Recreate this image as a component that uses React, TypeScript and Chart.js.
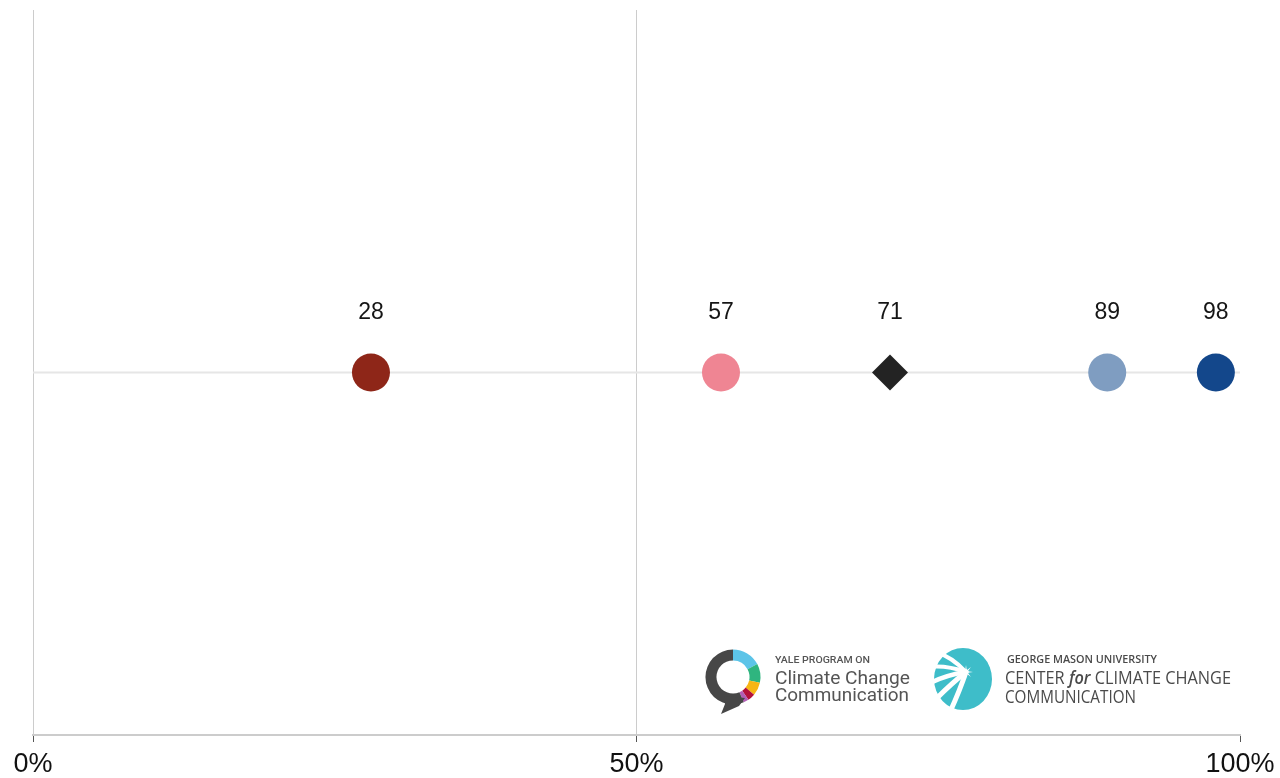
import React, { useEffect, useRef } from "react";
import { Chart, registerables } from "chart.js";

Chart.register(...registerables);

const categories = [
  "Conservative Republicans",
  "Liberal/Moderate Republicans",
  "All Registered Voters",
  "Moderate/Conservative Democrats",
  "Liberal Democrats",
];
const values = [28, 57, 71, 89, 98];
const pointColors = ["#8e2618", "#ef8593", "#232323", "#7f9dc1", "#13478b"];
const pointShapes = ["circle", "circle", "rectRot", "circle", "circle"];
const xTickValues = [0, 50, 100];
const xTickLabels = ["0%", "50%", "100%"];

const valueLabelPlugin = {
  id: "valueLabels",
  afterDatasetsDraw(chart: any) {
    const ctx = chart.ctx;
    const meta = chart.getDatasetMeta(1);
    ctx.save();
    ctx.font = "23px 'Liberation Sans', Arial, sans-serif";
    ctx.fillStyle = "#151515";
    ctx.textAlign = "center";
    ctx.textBaseline = "middle";
    meta.data.forEach((pt: any, i: number) => {
      ctx.fillText(String(values[i]), pt.x, pt.y - 60);
    });
    ctx.restore();
  },
};

function drawRuns(ctx: CanvasRenderingContext2D, runs: { t: string; f: string }[], x: number, y: number, width: number) {
  let total = 0;
  runs.forEach((r) => {
    ctx.font = r.f;
    total += ctx.measureText(r.t).width;
  });
  const sx = width / total;
  ctx.save();
  ctx.translate(x, y);
  ctx.scale(sx, 1);
  let cx = 0;
  runs.forEach((r) => {
    ctx.font = r.f;
    ctx.fillText(r.t, cx, 0);
    cx += ctx.measureText(r.t).width;
  });
  ctx.restore();
}

const logoPlugin = {
  id: "logos",
  afterDraw(chart: any) {
    const ctx: CanvasRenderingContext2D = chart.ctx;
    ctx.save();
    // Yale ring logo
    const cx = 733, cy = 677;
    const segs: [number, number, string][] = [
      [-90, -28, "#5cc4e8"],
      [-28, 12, "#2fb57f"],
      [12, 40, "#f7b614"],
      [40, 56, "#b3123b"],
      [56, 67, "#b35db6"],
      [67, 270, "#474747"],
    ];
    ctx.lineWidth = 11;
    segs.forEach(([a, b, c]) => {
      ctx.beginPath();
      ctx.strokeStyle = c;
      ctx.arc(cx, cy, 22, (a * Math.PI) / 180, (b * Math.PI) / 180);
      ctx.stroke();
    });
    ctx.fillStyle = "#474747";
    ctx.beginPath();
    ctx.moveTo(724, 696);
    ctx.lineTo(745, 698);
    ctx.lineTo(739, 706);
    ctx.lineTo(721, 714);
    ctx.lineTo(725, 704);
    ctx.closePath();
    ctx.fill();

    ctx.fillStyle = "#555555";
    ctx.textBaseline = "alphabetic";
    ctx.textAlign = "left";
    drawRuns(ctx, [{ t: "YALE PROGRAM ON", f: "500 9px Roboto" }], 775, 663, 95);
    drawRuns(ctx, [{ t: "Climate Change", f: "18px Roboto" }], 775, 684, 135);
    drawRuns(ctx, [{ t: "Communication", f: "18px Roboto" }], 775, 701, 134);

    // GMU logo
    ctx.fillStyle = "#3ebdc9";
    ctx.beginPath();
    ctx.ellipse(963, 679, 29, 31, 0, 0, Math.PI * 2);
    ctx.fill();
    const bx = 966, by = 672;
    ctx.strokeStyle = "#ffffff";
    ctx.lineCap = "round";
    const ends: [number, number, number, number, number][] = [
      [936, 652, 952, 657, 4],
      [929, 667, 946, 665, 4],
      [930, 683, 946, 675, 4.5],
      [937, 698, 952, 683, 5],
      [950, 712, 960, 690, 5],
    ];
    ends.forEach(([ex, ey, qx, qy, w]) => {
      ctx.beginPath();
      ctx.lineWidth = w;
      ctx.moveTo(bx, by);
      ctx.quadraticCurveTo(qx, qy, ex, ey);
      ctx.stroke();
    });
    ctx.fillStyle = "#ffffff";
    ctx.beginPath();
    for (let k = 0; k < 16; k++) {
      const ang = (k * Math.PI) / 8;
      const r = k % 2 === 0 ? 7 : 2;
      const px = bx + Math.cos(ang) * r;
      const py = by + Math.sin(ang) * r;
      if (k === 0) ctx.moveTo(px, py);
      else ctx.lineTo(px, py);
    }
    ctx.closePath();
    ctx.fill();

    ctx.fillStyle = "#4a4a4a";
    drawRuns(ctx, [{ t: "GEORGE MASON UNIVERSITY", f: "600 10px 'Open Sans'" }], 1007, 663, 150);
    drawRuns(
      ctx,
      [
        { t: "CENTER ", f: "18px 'Open Sans'" },
        { t: "for", f: "italic 600 18px 'Open Sans'" },
        { t: " CLIMATE CHANGE", f: "18px 'Open Sans'" },
      ],
      1005,
      684,
      226
    );
    drawRuns(ctx, [{ t: "COMMUNICATION", f: "18px 'Open Sans'" }], 1005, 703, 131);
    ctx.restore();
  },
};

export default function App() {
  const canvasRef = useRef<HTMLCanvasElement | null>(null);

  useEffect(() => {
    document.body.style.margin = "0";
    document.body.style.background = "#ffffff";
    const canvas = canvasRef.current;
    if (!canvas) return;
    const chart = new Chart(canvas, {
      type: "scatter",
      data: {
        datasets: [
          {
            type: "line",
            label: "baseline",
            data: [
              { x: 0, y: 0.5 },
              { x: 100, y: 0.5 },
            ],
            borderColor: "#e6e6e6",
            borderWidth: 2,
            pointRadius: 0,
            order: 2,
            clip: false,
          } as any,
          {
            label: "values",
            data: values.map((v) => ({ x: v, y: 0.5 })),
            pointBackgroundColor: pointColors,
            pointBorderColor: pointColors,
            pointBorderWidth: 0,
            pointStyle: pointShapes as any,
            pointRadius: pointShapes.map((s) => (s === "rectRot" ? 18 : 19)),
            pointHoverRadius: pointShapes.map((s) => (s === "rectRot" ? 18 : 19)),
            order: 1,
            clip: false,
          } as any,
        ],
      },
      options: {
        animation: false,
        responsive: true,
        maintainAspectRatio: false,
        layout: { autoPadding: false, padding: { left: 33, right: 40, top: 10, bottom: 0 } },
        plugins: {
          legend: { display: false },
          tooltip: { enabled: false },
        },
        scales: {
          x: {
            type: "linear",
            min: 0,
            max: 100,
            afterBuildTicks: (axis: any) => {
              axis.ticks = xTickValues.map((v) => ({ value: v }));
            },
            afterFit: (axis: any) => {
              axis.height = 43;
              axis.paddingLeft = 0;
              axis.paddingRight = 0;
            },
            ticks: {
              callback: (v: any) => xTickLabels[xTickValues.indexOf(Number(v))] ?? "",
              font: { family: "'Liberation Sans', Arial, sans-serif", size: 27, lineHeight: 0.98 },
              color: "#111111",
              padding: 9,
              maxRotation: 0,
              autoSkip: false,
            },
            grid: {
              color: (c: any) => (c.tick && c.tick.value === 100 ? "rgba(0,0,0,0)" : "#cccccc"),
              lineWidth: 1,
              drawTicks: true,
              tickLength: 7,
              tickColor: "#555555",
            },
            border: { display: true, color: "#cccccc", width: 2 },
          },
          y: { display: false, min: 0, max: 1 },
        },
      },
      plugins: [valueLabelPlugin, logoPlugin],
    });
    return () => chart.destroy();
  }, []);

  return (
    <div style={{ width: 1280, height: 778, position: "relative", background: "#fff" }}>
      <canvas ref={canvasRef} aria-label={categories.join(", ")} />
    </div>
  );
}
